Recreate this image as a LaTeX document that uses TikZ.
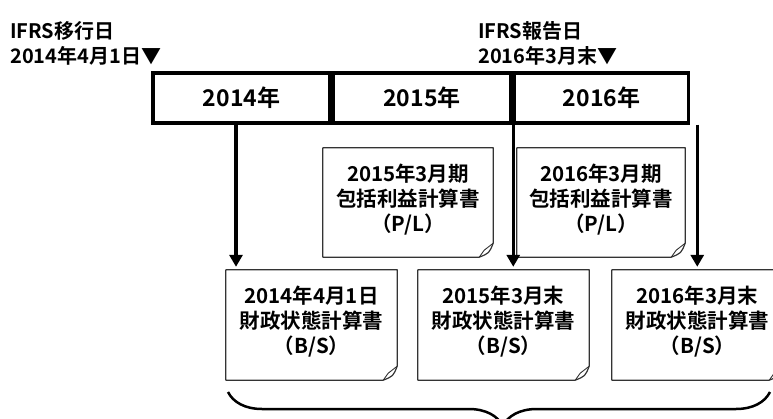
\documentclass[tikz,border=0pt]{standalone}
\usepackage{fontspec}
\setmainfont{Noto Sans CJK JP}[BoldFont={Noto Sans CJK JP Bold}]
\usetikzlibrary{arrows.meta,decorations.pathreplacing}

\begin{document}
\begin{tikzpicture}[x=1pt,y=-1pt,
    yearbox/.style={draw,line width=3.5pt,minimum height=50pt,inner sep=0pt,
      font=\fontsize{23}{26}\selectfont\bfseries},
    doc/.style={minimum height=110pt,inner sep=0pt,align=center,text depth=10pt,
      font=\fontsize{20.5}{25}\selectfont\bfseries},
    docline/.style={draw=black!80,line width=1.2pt,line join=round},
    arr/.style={line width=3.5pt,shorten >=3pt,-{Triangle[width=13pt,length=12pt]}},
    head/.style={anchor=west,align=left,inner sep=0pt,
      font=\fontsize{20}{25}\selectfont\bfseries}]
  \useasboundingbox (0,0) rectangle (773,419);

  % dates above the bar
  \node[head] (movedate) at (10,43) {IFRS移行日\\2014年4月1日▼};
  \node[head] (repdate) at (478,43) {IFRS報告日\\2016年3月末▼};

  % year bar
  \node[yearbox,minimum width=177pt] (y2014) at (241.5,98) {2014年};
  \node[yearbox,minimum width=178pt] (y2015) at (422,98) {2015年};
  \node[yearbox,minimum width=174pt] (y2016) at (601.5,98) {2016年};

  % statements (P/L)
  \node[doc,minimum width=170pt,minimum height=109pt] (pl1) at (408,202.5) {2015年3月期\\包括利益計算書\\（P/L）};
  \node[doc,minimum width=168pt,minimum height=109pt] (pl2) at (601,202.5) {2016年3月期\\包括利益計算書\\（P/L）};

  % statements (B/S)
  \node[doc,minimum width=171pt] (bs1) at (311.5,325) {2014年4月1日\\財政状態計算書\\（B/S）};
  \node[doc,minimum width=171pt] (bs2) at (503.5,325) {2015年3月末\\財政状態計算書\\（B/S）};
  \node[doc,minimum width=171pt] (bs3) at (697.5,325) {2016年3月末\\財政状態計算書\\（B/S）};

  % paper outline with folded corner
  \foreach \n in {pl1,pl2,bs1,bs2,bs3} {
    \draw[docline] (\n.north west) -- (\n.north east) -- ([yshift=14pt]\n.south east)
      .. controls ([xshift=-4pt,yshift=4pt]\n.south east) .. ([xshift=-14pt]\n.south east)
      -- (\n.south west) -- cycle;
    \draw[docline,line width=0.9pt] ([yshift=14pt]\n.south east) -- ([xshift=-9pt,yshift=7pt]\n.south east)
      .. controls ([xshift=-12pt,yshift=4pt]\n.south east) .. ([xshift=-14pt]\n.south east);
  }

  % arrows
  \draw[arr] ([xshift=-5.5pt]y2014.south) -- ([xshift=-5.5pt]y2014.south |- bs1.north);
  \draw[arr] ([xshift=0.5pt]y2016.south west) -- ([xshift=0.5pt]y2016.south west |- bs2.north);
  \draw[arr] ([xshift=7pt]y2016.south east) -- ([xshift=7pt]y2016.south east |- bs3.north);

  % brace under the B/S
  \coordinate (bl) at (228,392);
  \coordinate (br) at (770,392);
  \draw[decorate,decoration={brace,mirror,amplitude=34pt,aspect=0.507},line width=2.5pt] (bl) -- (br);
\end{tikzpicture}
\end{document}
